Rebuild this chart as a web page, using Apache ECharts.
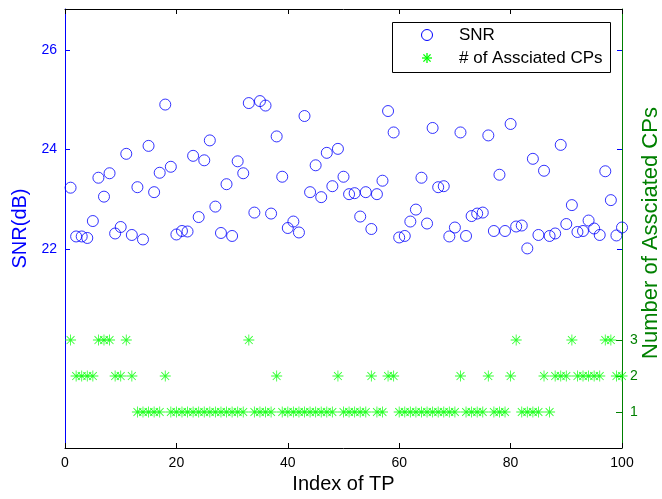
<!DOCTYPE html>
<html>
<head>
<meta charset="utf-8">
<script src="https://cdn.jsdelivr.net/npm/echarts@6/dist/echarts.min.js"></script>
<style>html,body{margin:0;padding:0;background:#fff}#c{width:662px;height:499px}</style>
</head>
<body>
<div id="c"></div>
<script>
// Index of TP (1..100)
var tpIndex = [];
for (var i = 1; i <= 100; i++) tpIndex.push(i);

// SNR (dB) per TP
var snrValues = [
  23.23, 22.25, 22.25, 22.22, 22.56, 23.43, 23.05, 23.52, 22.31, 22.44,
  23.91, 22.28, 23.24, 22.19, 24.07, 23.14, 23.53, 24.90, 23.65, 22.29,
  22.36, 22.35, 23.87, 22.64, 23.78, 24.18, 22.85, 22.32, 23.30, 22.26,
  23.76, 23.52, 24.93, 22.73, 24.97, 24.88, 22.71, 24.26, 23.45, 22.42,
  22.55, 22.33, 24.67, 23.14, 23.68, 23.04, 23.93, 23.26, 24.01, 23.45,
  23.10, 23.12, 22.65, 23.14, 22.40, 23.10, 23.37, 24.77, 24.34, 22.23,
  22.26, 22.55, 22.79, 23.43, 22.51, 24.43, 23.24, 23.26, 22.25, 22.43,
  24.34, 22.26, 22.66, 22.71, 22.73, 24.28, 22.36, 23.49, 22.36, 24.51,
  22.45, 22.47, 22.01, 23.81, 22.28, 23.57, 22.26, 22.31, 24.09, 22.50,
  22.88, 22.34, 22.36, 22.57, 22.41, 22.28, 23.56, 22.98, 22.27, 22.43
];

// Number of associated CPs per TP
var cpCounts = [
  3, 2, 2, 2, 2, 3, 3, 3, 2, 2,
  3, 2, 1, 1, 1, 1, 1, 2, 1, 1,
  1, 1, 1, 1, 1, 1, 1, 1, 1, 1,
  1, 1, 3, 1, 1, 1, 1, 2, 1, 1,
  1, 1, 1, 1, 1, 1, 1, 1, 2, 1,
  1, 1, 1, 1, 2, 1, 1, 2, 2, 1,
  1, 1, 1, 1, 1, 1, 1, 1, 1, 1,
  2, 1, 1, 1, 1, 2, 1, 1, 1, 2,
  3, 1, 1, 1, 1, 2, 1, 2, 2, 2,
  3, 2, 2, 2, 2, 2, 3, 3, 2, 2
];

var seriesNames = ['SNR', '# of Assciated CPs'];
var rightAxisTitle = 'Number of Assciated CPs';
var snrTicks = [22, 24, 26];
var cpTicks = [1, 2, 3];

var FONT = "'Liberation Sans', Arial, Helvetica, sans-serif";
var BLUE = '#0000ff', GREEN = '#008000', STAR = '#00ff00';
var starPath = 'path://M9.3,1 L10.7,1 L10.7,19 L9.3,19 Z M1,9.3 L19,9.3 L19,10.7 L1,10.7 Z M3.1,4.1 L4.1,3.1 L16.9,15.9 L15.9,16.9 Z M15.9,3.1 L16.9,4.1 L4.1,16.9 L3.1,15.9 Z';

var snrData = tpIndex.map(function (x, k) { return [x, snrValues[k]]; });
var cpData = tpIndex.map(function (x, k) { return [x, cpCounts[k]]; });

// legend star built from 4 short strokes
function starLines(cx, cy, r) {
  var d = r * 0.72, st = {stroke: STAR, lineWidth: 1.3};
  return [
    {type: 'line', shape: {x1: cx, y1: cy - r, x2: cx, y2: cy + r}, style: st},
    {type: 'line', shape: {x1: cx - r, y1: cy, x2: cx + r, y2: cy}, style: st},
    {type: 'line', shape: {x1: cx - d, y1: cy - d, x2: cx + d, y2: cy + d}, style: st},
    {type: 'line', shape: {x1: cx - d, y1: cy + d, x2: cx + d, y2: cy - d}, style: st}
  ];
}

var legendChildren = [
  {type: 'rect', shape: {x: 0.5, y: 0.5, width: 218, height: 50},
   style: {fill: '#fff', stroke: '#000', lineWidth: 1}},
  {type: 'circle', shape: {cx: 35, cy: 13, r: 5.5},
   style: {fill: 'none', stroke: BLUE, lineWidth: 1}},
  {type: 'text', x: 67, y: 13,
   style: {text: seriesNames[0], font: '17px ' + FONT, fill: '#000', verticalAlign: 'middle'}},
  {type: 'text', x: 67, y: 36,
   style: {text: seriesNames[1], font: '17px ' + FONT, fill: '#000', verticalAlign: 'middle'}}
].concat(starLines(35, 36, 5));

var chart = echarts.init(document.getElementById('c'), null, {renderer: 'canvas'});
chart.setOption({
  animation: false,
  backgroundColor: '#fff',
  textStyle: {fontFamily: FONT},
  grid: {left: 65, right: 40, top: 9, bottom: 51, containLabel: false, outerBoundsMode: 'none'},
  xAxis: [{
    type: 'value', min: 0, max: 100, interval: 20, position: 'bottom',
    name: 'Index of TP', nameLocation: 'middle', nameGap: 25,
    nameTextStyle: {fontFamily: FONT, fontSize: 20, color: '#000'},
    axisLine: {onZero: false, lineStyle: {color: '#000', width: 1}},
    axisTick: {inside: true, length: 5, lineStyle: {color: '#000'}},
    axisLabel: {fontFamily: FONT, fontSize: 14, color: '#000', margin: 8},
    splitLine: {show: false}
  }, {
    type: 'value', min: 0, max: 100, interval: 20, position: 'top',
    axisLine: {onZero: false, lineStyle: {color: '#000', width: 1}},
    axisTick: {inside: true, length: 5, lineStyle: {color: '#000'}},
    axisLabel: {show: false}, splitLine: {show: false}
  }],
  yAxis: [{
    type: 'value', min: 18, max: 26.82, position: 'left',
    name: 'SNR(dB)', nameLocation: 'middle', nameGap: 33, nameRotate: 90,
    nameTextStyle: {fontFamily: FONT, fontSize: 20, color: BLUE},
    axisLine: {show: true, onZero: false, lineStyle: {color: BLUE, width: 1}},
    axisTick: {inside: true, length: 5, customValues: snrTicks, lineStyle: {color: BLUE}},
    axisLabel: {fontFamily: FONT, fontSize: 14, color: BLUE, margin: 8, customValues: snrTicks},
    splitLine: {show: false}
  }, {
    type: 'value', min: 0, max: 12.2, position: 'right',
    axisLine: {show: true, onZero: false, lineStyle: {color: GREEN, width: 1}},
    axisTick: {inside: true, length: 6, customValues: cpTicks, lineStyle: {color: GREEN}},
    axisLabel: {fontFamily: FONT, fontSize: 14, color: GREEN, margin: 8, customValues: cpTicks},
    splitLine: {show: false}
  }, {
    type: 'value', min: 18, max: 26.82, position: 'right',
    axisLine: {show: false, onZero: false},
    axisTick: {inside: true, length: 5, customValues: snrTicks, lineStyle: {color: BLUE}},
    axisLabel: {show: false}, splitLine: {show: false}
  }],
  graphic: [{
    type: 'group', x: 392, y: 22, z: 100,
    children: legendChildren
  }, {
    type: 'text', x: 651, y: 233, rotation: Math.PI / 2, z: 100,
    style: {text: rightAxisTitle, font: '22px ' + FONT, fill: GREEN,
            align: 'center', verticalAlign: 'middle'}
  }],
  series: [{
    name: seriesNames[0], type: 'scatter', xAxisIndex: 0, yAxisIndex: 0,
    symbol: 'circle', symbolSize: 11,
    itemStyle: {color: 'rgba(0,0,0,0)', borderColor: BLUE, borderWidth: 1},
    data: snrData, z: 3
  }, {
    name: seriesNames[1], type: 'scatter', xAxisIndex: 0, yAxisIndex: 1,
    symbol: starPath, symbolSize: 11,
    itemStyle: {color: STAR},
    data: cpData, z: 4
  }]
});
</script>
</body>
</html>
